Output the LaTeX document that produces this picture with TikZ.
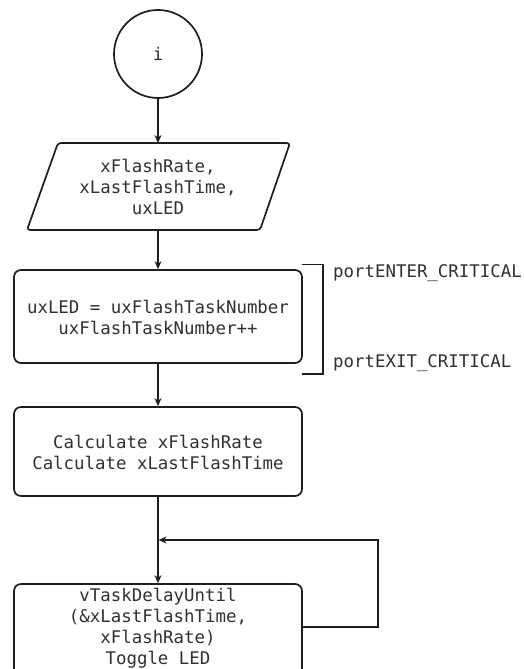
\documentclass[tikz,border=0pt]{standalone}
\usepackage{fontspec}
\setmonofont{DejaVu Sans Mono}
\usetikzlibrary{arrows.meta}
\definecolor{ink}{HTML}{1E1E1E}
\definecolor{txt}{HTML}{303030}
\tikzset{
  x=1pt, y=-1pt,
  every node/.style={font=\ttfamily\fontsize{17.4}{21}\selectfont, text=txt, align=center, inner sep=0pt},
  procbox/.style={draw=ink, line width=1.7pt, rounded corners=7pt, minimum width=288pt},
  link/.style={draw=ink, line width=1.1pt},
  arr/.style={link, -{Stealth[length=8pt,width=7pt]}},
}
\begin{document}
\begin{tikzpicture}
\useasboundingbox (0,0) rectangle (523,669);
\begin{scope}
\clip (0,0) rectangle (523,669);

% start connector circle
\node[circle, draw=ink, line width=1.7pt, minimum size=88pt] (start) at (158,54) {i};

% input parallelogram
\coordinate (dtop) at (158,143);
\coordinate (dbot) at (158,230);
\draw[draw=ink, line width=1.7pt, rounded corners=3pt]
  (58,143) -- (290,143) -- (260,230) -- (27,230) -- cycle;
\node (data) at (158,187) {xFlashRate,\\xLastFlashTime,\\uxLED};

% critical section
\node[procbox, minimum height=93pt] (crit) at (158,316.5) {};
\node (crittxt) at (158,317.5) {uxLED = uxFlashTaskNumber\\uxFlashTaskNumber++};

% rate calculation
\node[procbox, minimum height=89pt] (calc) at (158,451.5) {};
\node (calctxt) at (158,452) {Calculate xFlashRate\\Calculate xLastFlashTime};

% delay and toggle (runs past the lower edge)
\node[procbox, minimum height=100pt] (delay) at (158,634) {};
\node (delaytxt) at (158,628.5) {vTaskDelayUntil\\(\&xLastFlashTime,\\xFlashRate)\\Toggle LED};

% flow
\draw[arr] (start.south) -- (dtop);
\draw[arr] (dbot) -- (crit.north);
\draw[arr] (crit.south) -- (calc.north);
\draw[arr] (calc.south) -- (delay.north);

% loop back
\coordinate (loopout) at (302,627);
\coordinate (loopin) at (158.6,540);
\draw[arr] (delay.east |- loopout) -- (378,627) -- (378,540) -- (loopin);

% critical section bracket
\coordinate (brtop) at (302,264.5);
\coordinate (brbot) at (302,374);
\draw[link, line width=1.5pt] (brtop) -- (323,264.5) -- (323,374) -- (brbot);
\node[anchor=west] (enter) at (333,273) {portENTER\_CRITICAL};
\node[anchor=west] (exit) at (333,363) {portEXIT\_CRITICAL};
\end{scope}
\end{tikzpicture}
\end{document}
